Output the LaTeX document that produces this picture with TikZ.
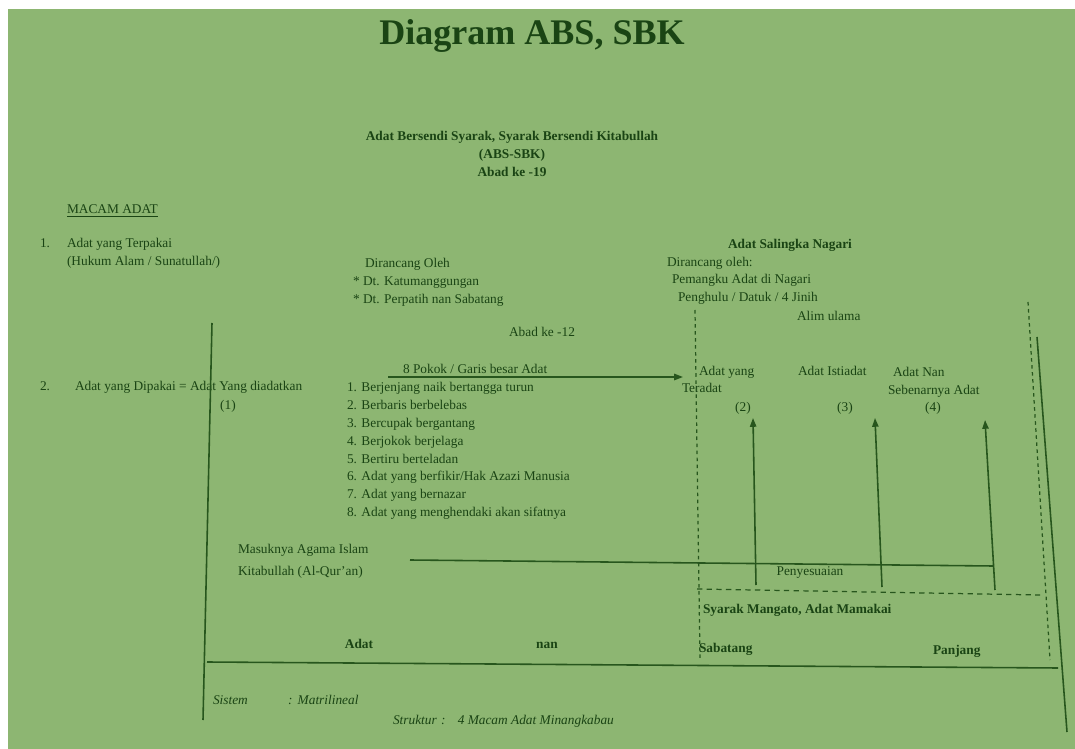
\documentclass[tikz,border=0pt]{standalone}
\usepackage{fontspec}
\setmainfont{Liberation Serif}
\usetikzlibrary{arrows.meta}
\definecolor{bg}{HTML}{8DB672}
\definecolor{ink}{HTML}{1A4414}
\definecolor{lineink}{HTML}{27561D}
\begin{document}
\begin{tikzpicture}[x=0.02cm,y=-0.02cm,
  txt/.style={inner sep=0pt,outer sep=0pt,text=ink,font=\fontsize{7.6}{10}\selectfont},
  lw/.style={txt,anchor=base west},
  lc/.style={txt,anchor=base},
  bw/.style={lw,font=\fontsize{7.6}{10}\selectfont\bfseries},
  bc/.style={lc,font=\fontsize{7.6}{10}\selectfont\bfseries},
  iw/.style={lw,font=\fontsize{7.6}{10}\selectfont\itshape},
  solidline/.style={draw=lineink,line width=0.9pt},
  dashline/.style={draw=lineink,line width=0.7pt,dash pattern=on 2pt off 2pt},
  hdash/.style={draw=lineink,line width=0.7pt,dash pattern=on 3pt off 2.5pt},
  uparrow/.style={solidline,-{Triangle[length=5pt,width=3.6pt]}},
]
\useasboundingbox (0,0) rectangle (1075,749);
\fill[white] (0,0) rectangle (1075,749);
\fill[bg] (8,9) rectangle (1075,749);

% title
\node[txt,anchor=base,font=\fontsize{20.5}{22}\selectfont\bfseries] (title) at (532,45) {Diagram ABS, SBK};

\node[bc] (abs1) at (512,141) {Adat Bersendi Syarak, Syarak Bersendi Kitabullah};
\node[bc] (abs2) at (512,159) {(ABS-SBK)};
\node[bc] (abs3) at (512,177) {Abad ke -19};

\node[lw] (macam) at (67,214) {\underline{MACAM ADAT}};
\node[lw] (n1) at (40,248) {1.};
\node[lw] (t1a) at (67,248) {Adat yang Terpakai};
\node[lw] (t1b) at (67,266) {(Hukum Alam / Sunatullah/)};

\node[lw] (dir1) at (365,268) {Dirancang Oleh};
\node[lw] (dt1) at (353,286) {* Dt. Katumanggungan};
\node[lw] (dt2) at (353,304) {* Dt. Perpatih nan Sabatang};

\node[bw] (salingka) at (728,249) {Adat Salingka Nagari};
\node[lw] (dir2) at (667,267) {Dirancang oleh:};
\node[lw] (pem) at (672,284) {Pemangku Adat di Nagari};
\node[lw] (peng) at (678,302) {Penghulu / Datuk / 4 Jinih};
\node[lw] (alim) at (797,321) {Alim ulama};

\node[lc] (abad12) at (542,337) {Abad ke -12};

\node[lw] (pokok) at (403,374) {8 Pokok / Garis besar Adat};

\node[lw] (n2) at (40,391) {2.};
\node[lw] (t2) at (75,391) {Adat yang Dipakai = Adat Yang diadatkan};
\node[lc] (one) at (228,410) {(1)};

\node[lw] (i1) at (347,392) {1. Berjenjang naik bertangga turun};
\node[lw] (i2) at (347,410) {2. Berbaris berbelebas};
\node[lw] (i3) at (347,428) {3. Bercupak bergantang};
\node[lw] (i4) at (347,446) {4. Berjokok berjelaga};
\node[lw] (i5) at (347,464) {5. Bertiru berteladan};
\node[lw] (i6) at (347,481) {6. Adat yang berfikir/Hak Azazi Manusia};
\node[lw] (i7) at (347,499) {7. Adat yang bernazar};
\node[lw] (i8) at (347,517) {8. Adat yang menghendaki akan sifatnya};

\node[lw] (ay) at (699,376) {Adat yang};
\node[lw] (ter) at (682,393) {Teradat};
\node[lw] (ist) at (798,376) {Adat Istiadat};
\node[lw] (nan1) at (893,377) {Adat Nan};
\node[lw] (seb) at (888,395) {Sebenarnya Adat};
\node[lc] (two) at (743,412) {(2)};
\node[lc] (three) at (845,412) {(3)};
\node[lc] (four) at (933,412) {(4)};

\node[lw] (masuk) at (238,554) {Masuknya Agama Islam};
\node[lw] (kitab) at (238,576) {Kitabullah (Al-Qur'an)};
\node[lc] (peny) at (810,576) {Penyesuaian};

\node[bw] (syarak) at (703,613) {Syarak Mangato, Adat Mamakai};
\node[bc] (adat) at (359,648) {Adat};
\node[bc] (nan) at (547,648) {nan};
\node[bw] (sabatang) at (699,652) {Sabatang};
\node[bw] (panjang) at (933,654) {Panjang};

\node[iw] (sistem) at (213,704) {Sistem};
\node[iw] (matri) at (288,704) {:\hspace{3pt}Matrilineal};
\node[iw] (struk) at (393,724) {Struktur};
\node[iw] (macam4) at (441,724) {:\hspace{7pt}4 Macam Adat Minangkabau};

% coordinates
\coordinate (lvT) at (212,323);
\coordinate (lvB) at (203,720);
\coordinate (rvT) at (1037,337);
\coordinate (rvB) at (1067,732);
\coordinate (ldT) at (695,310);
\coordinate (ldB) at (700,660);
\coordinate (rdT) at (1028,302);
\coordinate (rdB) at (1050,660);
\coordinate (pkS) at (388,377);
\coordinate (pkE) at (683,377);
\coordinate (pyS) at (410,560);
\coordinate (pyE) at (993,566);
\coordinate (a2B) at (756,585);
\coordinate (a2T) at (753,418);
\coordinate (a3B) at (882,587);
\coordinate (a3T) at (875,418);
\coordinate (a4B) at (995,590);
\coordinate (a4T) at (985,420);
\coordinate (hdS) at (697,589);
\coordinate (hdE) at (1040,595);
\coordinate (btS) at (207,662);
\coordinate (btE) at (1058,668);

\draw[solidline] (lvT) -- (lvB);
\draw[solidline] (rvT) -- (rvB);
\draw[dashline] (ldT) -- (ldB);
\draw[dashline] (rdT) -- (rdB);
\draw[solidline,-{Triangle[length=5pt,width=3.6pt]}] (pkS) -- (pkE);
\draw[solidline] (pyS) -- (pyE);
\draw[uparrow] (a2B) -- (a2T);
\draw[uparrow] (a3B) -- (a3T);
\draw[uparrow] (a4B) -- (a4T);
\draw[hdash] (hdS) -- (hdE);
\draw[solidline] (btS) -- (btE);
\end{tikzpicture}
\end{document}
